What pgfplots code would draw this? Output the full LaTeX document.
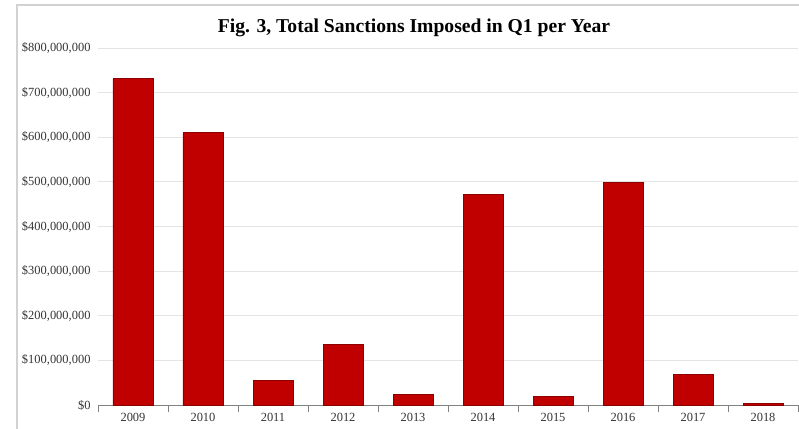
\documentclass[border=0pt]{standalone}
\usepackage{pgfplots}
\pgfplotsset{compat=1.18}
\usepackage{fontspec}
\setmainfont{Liberation Serif}
\definecolor{barred}{RGB}{192,0,0}
\definecolor{baredge}{RGB}{140,0,0}
\definecolor{gridc}{RGB}{228,228,228}
\definecolor{axc}{RGB}{130,130,130}
\begin{document}
\begin{tikzpicture}[x=1bp,y=1bp]
\begin{axis}[
  at={(0,0)}, anchor=south west,
  scale only axis, width=700bp, height=357bp,
  xmin=-0.5, xmax=9.5, ymin=0, ymax=800000000,
  scaled y ticks=false,
  axis lines*=left,
  y axis line style={draw=none},
  x axis line style={draw=axc, line width=0.8bp},
  ytick={0,100000000,200000000,300000000,400000000,500000000,600000000,700000000,800000000},
  yticklabels={{\$0},{\$100,000,000},{\$200,000,000},{\$300,000,000},{\$400,000,000},{\$500,000,000},{\$600,000,000},{\$700,000,000},{\$800,000,000}},
  ymajorgrids, grid style={draw=gridc, line width=0.8bp},
  major tick length=0pt,
  xtick={0,1,2,3,4,5,6,7,8,9},
  xticklabels={2009,2010,2011,2012,2013,2014,2015,2016,2017,2018},
  minor xtick={-0.5,0.5,1.5,2.5,3.5,4.5,5.5,6.5,7.5,8.5,9.5},
  minor tick length=7bp, tick align=center,
  minor x tick style={draw=axc, line width=0.8bp},
  tick label style={font=\fontsize{12.5}{14}\selectfont, text=black!80},
  yticklabel style={xshift=-4bp},
  xticklabel style={yshift=-5bp},
  /pgf/number format/assume math mode=true,
  ybar, bar width=40bp,
  clip=false,
]
\addplot[fill=barred, draw=baredge, line width=0.8bp] coordinates {
  (0,731000000) (1,610000000) (2,54500000) (3,135000000) (4,24000000)
  (5,472000000) (6,19500000) (7,498000000) (8,69000000) (9,2500000)
};
\end{axis}
\node[font=\bfseries\fontsize{19.7}{22}\selectfont] at (316bp,377bp) {Fig. 3, Total Sanctions Imposed in Q1 per Year};
\draw[gray!35, line width=1.2bp] (-81bp,-40bp) -- (-81bp,400bp) -- (720bp,400bp);
\pgfresetboundingbox
\path[use as bounding box] (-98bp,-24bp) rectangle (701bp,405bp);
\end{tikzpicture}
\end{document}
